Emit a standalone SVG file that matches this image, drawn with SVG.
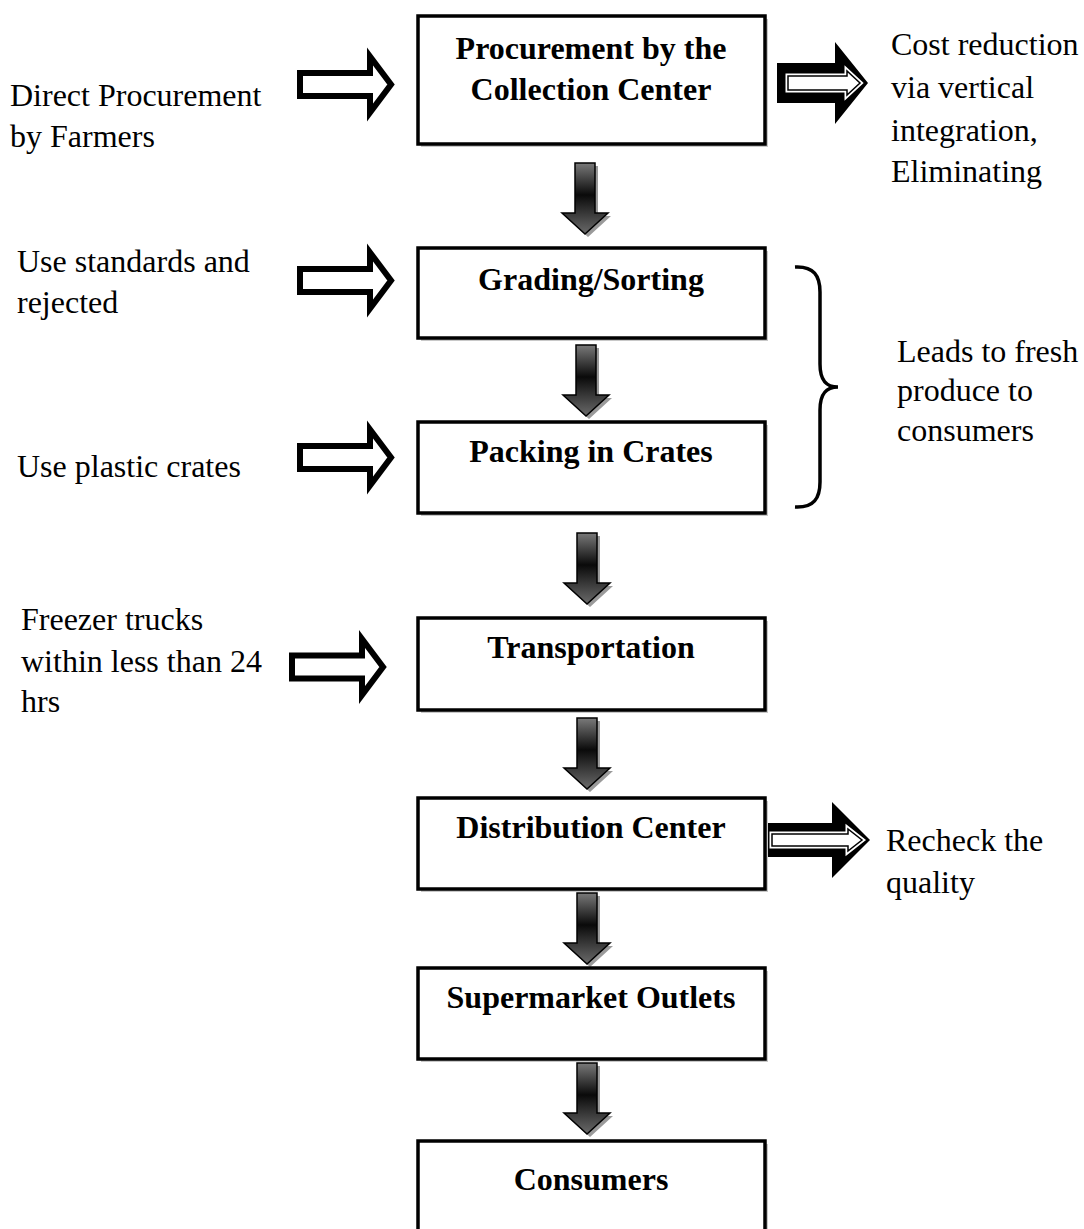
<svg xmlns="http://www.w3.org/2000/svg" width="1084" height="1229" viewBox="0 0 1084 1229">
<style>
.box{fill:#fff;stroke:#000;stroke-width:3.5}
.shadow{fill:#c8c8c8}
.bt{font-family:"Liberation Serif","Times New Roman",serif;font-weight:bold;font-size:32px;text-anchor:middle;fill:#000}
.lt{font-family:"Liberation Serif","Times New Roman",serif;font-size:32px;fill:#000}
.oarrow{fill:#fff;stroke:#000;stroke-width:6;stroke-linejoin:miter;stroke-miterlimit:10}
.darrow{fill:url(#g);stroke:#000;stroke-width:1.5}
.dshadow{fill:#9a9a9a}
</style>
<defs>
<linearGradient id="g" x1="0" y1="0" x2="0" y2="1">
<stop offset="0" stop-color="#7a7a7a"/>
<stop offset="0.45" stop-color="#0a0a0a"/>
<stop offset="0.72" stop-color="#3a3a3a"/>
<stop offset="1" stop-color="#6a6a6a"/>
</linearGradient>
<path id="down" d="M-10,0 H10 V50 H23 L0,71 L-23,50 H-10 Z"/>
<path id="oa" d="M0,-11.5 H70 V-28 L91,0 L70,28 V11.5 H0 Z"/>
</defs>

<g id="connectors">
<g id="d1" transform="translate(585,163)"><use href="#down" class="dshadow" x="3" y="3"/><use href="#down" class="darrow"/></g>
<g id="d2" transform="translate(586,345)"><use href="#down" class="dshadow" x="3" y="3"/><use href="#down" class="darrow"/></g>
<g id="d3" transform="translate(587,533)"><use href="#down" class="dshadow" x="3" y="3"/><use href="#down" class="darrow"/></g>
<g id="d4" transform="translate(587,718)"><use href="#down" class="dshadow" x="3" y="3"/><use href="#down" class="darrow"/></g>
<g id="d5" transform="translate(587,893)"><use href="#down" class="dshadow" x="3" y="3"/><use href="#down" class="darrow"/></g>
<g id="d6" transform="translate(587,1063)"><use href="#down" class="dshadow" x="3" y="3"/><use href="#down" class="darrow"/></g>

<use href="#oa" class="oarrow" transform="translate(300,84.5)"/>
<use href="#oa" class="oarrow" transform="translate(300,280.5)"/>
<use href="#oa" class="oarrow" transform="translate(300,457.5)"/>
<use href="#oa" class="oarrow" transform="translate(292,667)"/>

<g id="r1" transform="translate(777,83)">
<path d="M0,-20 H58 V-41 L91,0 L58,41 V20 H0 Z" fill="#000"/>
<path d="M11,-7 H70 V-12 L83,0 L70,12 V7 H11 Z" fill="#fff" stroke="#fff" stroke-width="5"/>
<path d="M11,-7 H70 V-12 L83,0 L70,12 V7 H11 Z" fill="#fff" stroke="#000" stroke-width="1.5"/>
</g>
<g id="r2" transform="translate(763,840)">
<path d="M0,-17 H69 V-38 L107,0 L69,38 V17 H0 Z" fill="#000"/>
<path d="M9,-6 H85 V-11 L99,0 L85,11 V6 H9 Z" fill="#fff" stroke="#fff" stroke-width="5"/>
<path d="M9,-6 H85 V-11 L99,0 L85,11 V6 H9 Z" fill="#fff" stroke="#000" stroke-width="1.5"/>
</g>

<path id="brace" d="M795,267 C814,266 820,276 820,292 L820,364 C820,380 826,387 838,387 C826,387 820,394 820,410 L820,482 C820,498 814,508 795,507" fill="none" stroke="#000" stroke-width="3.5"/>
</g>

<g id="n1"><rect class="shadow" x="421" y="19" width="347" height="128"/><rect class="box" x="418" y="16" width="347" height="128"/><text class="bt" x="591" y="59">Procurement by the</text><text class="bt" x="591" y="100">Collection Center</text></g>
<g id="n2"><rect class="shadow" x="421" y="251" width="347" height="90"/><rect class="box" x="418" y="248" width="347" height="90"/><text class="bt" x="591" y="290">Grading/Sorting</text></g>
<g id="n3"><rect class="shadow" x="421" y="425" width="347" height="91"/><rect class="box" x="418" y="422" width="347" height="91"/><text class="bt" x="591" y="462">Packing in Crates</text></g>
<g id="n4"><rect class="shadow" x="421" y="621" width="347" height="92"/><rect class="box" x="418" y="618" width="347" height="92"/><text class="bt" x="591" y="658">Transportation</text></g>
<g id="n5"><rect class="shadow" x="421" y="801" width="347" height="91"/><rect class="box" x="418" y="798" width="347" height="91"/><text class="bt" x="591" y="838">Distribution Center</text></g>
<g id="n6"><rect class="shadow" x="421" y="971" width="347" height="91"/><rect class="box" x="418" y="968" width="347" height="91"/><text class="bt" x="591" y="1008">Supermarket Outlets</text></g>
<g id="n7"><rect class="shadow" x="421" y="1144" width="347" height="100"/><rect class="box" x="418" y="1141" width="347" height="100"/><text class="bt" x="591" y="1190">Consumers</text></g>

<g id="labels">
<text class="lt" x="10" y="106">Direct Procurement</text>
<text class="lt" x="10" y="147">by Farmers</text>
<text class="lt" x="17" y="272">Use standards and</text>
<text class="lt" x="17" y="313">rejected</text>
<text class="lt" x="17" y="477">Use plastic crates</text>
<text class="lt" x="21" y="630">Freezer trucks</text>
<text class="lt" x="21" y="672">within less than 24</text>
<text class="lt" x="21" y="712">hrs</text>
<text class="lt" x="891" y="55">Cost reduction</text>
<text class="lt" x="891" y="98">via vertical</text>
<text class="lt" x="891" y="141">integration,</text>
<text class="lt" x="891" y="182">Eliminating</text>
<text class="lt" x="897" y="362">Leads to fresh</text>
<text class="lt" x="897" y="401">produce to</text>
<text class="lt" x="897" y="441">consumers</text>
<text class="lt" x="886" y="851">Recheck the</text>
<text class="lt" x="886" y="893">quality</text>
</g>
</svg>
